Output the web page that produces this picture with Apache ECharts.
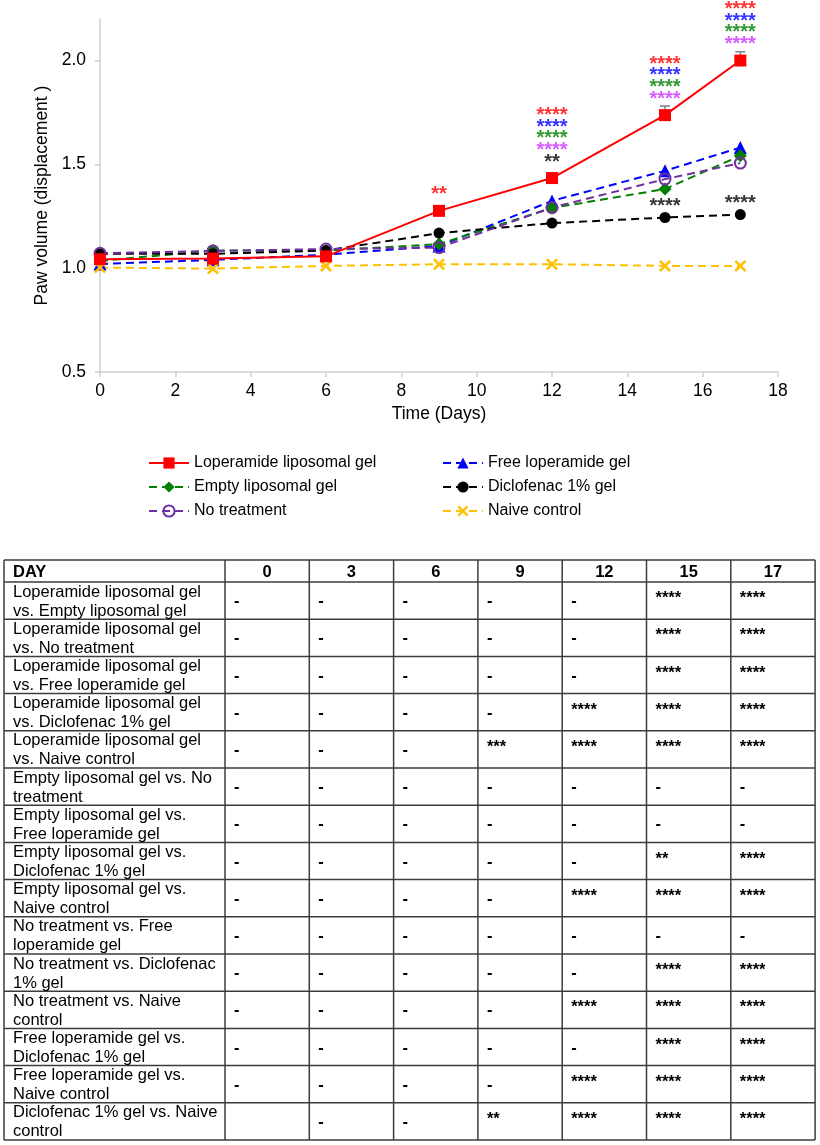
<!DOCTYPE html>
<html>
<head>
<meta charset="utf-8">
<title>Paw volume</title>
<script src="https://cdn.jsdelivr.net/npm/echarts@6/dist/echarts.min.js"></script>
<style>
  html, body { margin: 0; padding: 0; background: #fff; }
  #chart { width: 820px; height: 1145px; }
</style>
</head>
<body>
<div id="chart"></div>
<script>
// ---- data ----
var days = [0, 3, 6, 9, 12, 15, 17];
var loperamideLipo = [1.043, 1.046, 1.057, 1.276, 1.434, 1.737, 2.00];
var freeLoperamide = [1.02, 1.04, 1.065, 1.107, 1.324, 1.469, 1.581];
var emptyLipo      = [1.035, 1.085, 1.085, 1.116, 1.29, 1.381, 1.541];
var noTreatment    = [1.072, 1.083, 1.092, 1.099, 1.292, 1.429, 1.506];
var diclofenac     = [1.07, 1.069, 1.085, 1.169, 1.217, 1.244, 1.258];
var naiveControl   = [1.003, 0.998, 1.011, 1.019, 1.019, 1.011, 1.011];
// upper error bar of the loperamide liposomal gel group (others are hidden by the markers)
var loperamideErr  = [0, 0, 0, 0, 0, 0.044, 0.042];

var yTicks = [0.5, 1.0, 1.5, 2.0];

// significance marks drawn above the points, listed top to bottom
var sigOverLoperamide = [
  { day: 9,  marks: [['**', 'red']] },
  { day: 12, marks: [['****', 'red'], ['****', 'blue'], ['****', 'green'], ['****', 'magenta'], ['**', 'black']] },
  { day: 15, marks: [['****', 'red'], ['****', 'blue'], ['****', 'green'], ['****', 'magenta']] },
  { day: 17, marks: [['****', 'red'], ['****', 'blue'], ['****', 'green'], ['****', 'magenta']] }
];
var sigOverDiclofenac = [
  { day: 15, marks: [['****', 'black']] },
  { day: 17, marks: [['****', 'black']] }
];

// table of pairwise comparisons
var tableDays = ['0', '3', '6', '9', '12', '15', '17'];
var comparisons = [
  'Loperamide liposomal gel\nvs. Empty liposomal gel',
  'Loperamide liposomal gel\nvs. No treatment',
  'Loperamide liposomal gel\nvs. Free loperamide gel',
  'Loperamide liposomal gel\nvs. Diclofenac 1% gel',
  'Loperamide liposomal gel\nvs. Naive control',
  'Empty liposomal gel vs. No\ntreatment',
  'Empty liposomal gel vs.\nFree loperamide gel',
  'Empty liposomal gel vs.\nDiclofenac 1% gel',
  'Empty liposomal gel vs.\nNaive control',
  'No treatment vs. Free\nloperamide gel',
  'No treatment vs. Diclofenac\n1% gel',
  'No treatment vs. Naive\ncontrol',
  'Free loperamide gel vs.\nDiclofenac 1% gel',
  'Free loperamide gel vs.\nNaive control',
  'Diclofenac 1% gel vs. Naive\ncontrol'
];
var significance = [
  ['-', '-', '-', '-', '-', '****', '****'],
  ['-', '-', '-', '-', '-', '****', '****'],
  ['-', '-', '-', '-', '-', '****', '****'],
  ['-', '-', '-', '-', '****', '****', '****'],
  ['-', '-', '-', '***', '****', '****', '****'],
  ['-', '-', '-', '-', '-', '-', '-'],
  ['-', '-', '-', '-', '-', '-', '-'],
  ['-', '-', '-', '-', '-', '**', '****'],
  ['-', '-', '-', '-', '****', '****', '****'],
  ['-', '-', '-', '-', '-', '-', '-'],
  ['-', '-', '-', '-', '-', '****', '****'],
  ['-', '-', '-', '-', '****', '****', '****'],
  ['-', '-', '-', '-', '-', '****', '****'],
  ['-', '-', '-', '-', '****', '****', '****'],
  ['', '-', '-', '**', '****', '****', '****']
];

// ---- styles ----
var FONT = "'Liberation Sans', Arial, sans-serif";
var starColors = { red: '#ff0000', blue: '#0000ff', green: '#008000', magenta: '#cc33ff', black: '#000000' };
var AXIS_GREY = '#d0d0d0';
var CROSS = 'path://M0,1.5 L1.5,0 L5,3.5 L8.5,0 L10,1.5 L6.5,5 L10,8.5 L8.5,10 L5,6.5 L1.5,10 L0,8.5 L3.5,5 Z';
var DASH = [8, 5];

function pairs(values) {
  return days.map(function (d, i) { return [d, values[i]]; });
}

function lineSeries(name, values, color, symbol, size, dashed, itemStyle) {
  return {
    name: name,
    type: 'line',
    data: pairs(values),
    symbol: symbol,
    symbolSize: size,
    showAllSymbol: true,
    lineStyle: { color: color, width: 2, type: dashed ? DASH : 'solid' },
    itemStyle: itemStyle || { color: color },
    emphasis: { disabled: true }
  };
}

// star labels stacked above a series' points
function sigPoints(groups, values, gap) {
  var step = 11.6;
  var pts = [];
  groups.forEach(function (g) {
    var v = values[days.indexOf(g.day)];
    var n = g.marks.length;
    g.marks.forEach(function (m, i) {
      pts.push({
        value: [g.day, v],
        label: {
          formatter: m[0],
          color: starColors[m[1]],
          offset: [0, -(gap + (n - 1 - i) * step) + 4]
        }
      });
    });
  });
  return pts;
}

var sigData = sigPoints(sigOverLoperamide, loperamideLipo, 20)
  .concat(sigPoints(sigOverDiclofenac, diclofenac, 15));

var series = [
  lineSeries('Free loperamide gel', freeLoperamide, '#0000ff', 'triangle', 13, true),
  lineSeries('Empty liposomal gel', emptyLipo, '#008000', 'diamond', 13, true),
  lineSeries('Diclofenac 1% gel', diclofenac, '#000000', 'circle', 11, true),
  lineSeries('No treatment', noTreatment, '#7030a0', 'circle', 11, true,
    { color: 'rgba(255,255,255,0)', borderColor: '#7030a0', borderWidth: 2 }),
  lineSeries('Naive control', naiveControl, '#ffc000', CROSS, 12, true),
  {
    name: 'error',
    type: 'custom',
    silent: true,
    data: days.map(function (d, i) { return [d, loperamideLipo[i], loperamideErr[i]]; }),
    renderItem: function (params, api) {
      var e = api.value(2);
      if (!e) return null;
      var p0 = api.coord([api.value(0), api.value(1)]);
      var p1 = api.coord([api.value(0), api.value(1) + e]);
      var st = { stroke: '#808080', lineWidth: 1.5 };
      return {
        type: 'group',
        children: [
          { type: 'line', shape: { x1: p0[0], y1: p0[1], x2: p1[0], y2: p1[1] }, style: st },
          { type: 'line', shape: { x1: p1[0] - 5, y1: p1[1], x2: p1[0] + 5, y2: p1[1] }, style: st }
        ]
      };
    }
  },
  lineSeries('Loperamide liposomal gel', loperamideLipo, '#ff0000', 'rect', 12, false),
  {
    name: 'significance',
    type: 'scatter',
    silent: true,
    clip: false,
    symbolSize: 0,
    z: 5,
    data: sigData,
    label: { show: true, position: 'inside', fontSize: 20, fontWeight: 'bold', fontFamily: FONT }
  }
];

// ---- comparison table built with graphic elements ----
function buildTable() {
  var left = 4, top = 560, headH = 22, rowH = 37.2, firstW = 221, colW = 84.3;
  var right = left + firstW + colW * tableDays.length;
  var bottom = top + headH + rowH * comparisons.length;
  var border = { stroke: '#3c3c3c', lineWidth: 1.5 };
  var els = [];
  var i, j;

  // horizontal rules
  var ys = [top, top + headH];
  for (i = 1; i <= comparisons.length; i++) ys.push(top + headH + rowH * i);
  ys.forEach(function (y) {
    els.push({ type: 'line', shape: { x1: left, y1: y, x2: right, y2: y }, style: border });
  });
  // vertical rules
  var xs = [left, left + firstW];
  for (j = 1; j <= tableDays.length; j++) xs.push(left + firstW + colW * j);
  xs.forEach(function (x) {
    els.push({ type: 'line', shape: { x1: x, y1: top, x2: x, y2: bottom }, style: border });
  });

  var bold = 'bold 16.5px ' + FONT;
  var normal = '16.5px ' + FONT;
  // header
  els.push({ type: 'text', style: { text: 'DAY', x: left + 9, y: top + headH / 2 + 1, font: bold, fill: '#000', align: 'left', verticalAlign: 'middle' } });
  tableDays.forEach(function (d, k) {
    els.push({ type: 'text', style: { text: d, x: left + firstW + colW * k + colW / 2, y: top + headH / 2 + 1, font: bold, fill: '#000', align: 'center', verticalAlign: 'middle' } });
  });
  // body
  comparisons.forEach(function (label, r) {
    var cy = top + headH + rowH * r + rowH / 2 + 1;
    els.push({ type: 'text', style: { text: label, x: left + 9, y: cy, font: normal, lineHeight: 19, fill: '#000', align: 'left', verticalAlign: 'middle' } });
    significance[r].forEach(function (s, k) {
      if (!s) return;
      var dy = s === '-' ? 0 : -3; // stars sit a bit higher in their cells
      els.push({ type: 'text', style: { text: s, x: left + firstW + colW * k + 9, y: cy + dy, font: bold, fill: '#000', align: 'left', verticalAlign: 'middle' } });
    });
  });
  return els;
}

var legendText = { fontSize: 16, color: '#000', fontFamily: FONT };

var option = {
  animation: false,
  textStyle: { fontFamily: FONT },
  grid: { left: 100, top: 19, width: 678, height: 353 },
  xAxis: {
    type: 'value',
    min: 0,
    max: 18,
    interval: 2,
    name: 'Time (Days)',
    nameLocation: 'middle',
    nameGap: 33,
    nameTextStyle: { fontSize: 17.5, color: '#000', fontFamily: FONT },
    axisLine: { show: true, lineStyle: { color: AXIS_GREY, width: 1.5 } },
    axisTick: { show: true, length: 5, lineStyle: { color: AXIS_GREY, width: 1.5 } },
    axisLabel: { fontSize: 17.5, color: '#000', margin: 10, fontFamily: FONT },
    splitLine: { show: false }
  },
  yAxis: {
    type: 'value',
    min: 0.5,
    max: 2.2,
    interval: 0.5,
    name: 'Paw volume (displacement )',
    nameLocation: 'middle',
    nameGap: 42,
    nameTextStyle: { fontSize: 17.5, color: '#000', fontFamily: FONT },
    axisLine: { show: true, lineStyle: { color: AXIS_GREY, width: 1.5 } },
    axisTick: { show: true, length: 5, lineStyle: { color: AXIS_GREY, width: 1.5 }, customValues: yTicks },
    axisLabel: {
      fontSize: 17.5, color: '#000', margin: 14, fontFamily: FONT,
      customValues: yTicks,
      formatter: function (v) { return v.toFixed(1); }
    },
    splitLine: { show: false }
  },
  legend: [
    {
      data: ['Loperamide liposomal gel', 'Empty liposomal gel', 'No treatment'],
      orient: 'vertical', left: 143, top: 450,
      itemWidth: 40, itemHeight: 14, itemGap: 8,
      textStyle: legendText, selectedMode: false
    },
    {
      data: ['Free loperamide gel', 'Diclofenac 1% gel', 'Naive control'],
      orient: 'vertical', left: 437, top: 450,
      itemWidth: 40, itemHeight: 14, itemGap: 8,
      textStyle: legendText, selectedMode: false
    }
  ],
  series: series,
  graphic: buildTable()
};

var chart = echarts.init(document.getElementById('chart'));
chart.setOption(option);
</script>
</body>
</html>
